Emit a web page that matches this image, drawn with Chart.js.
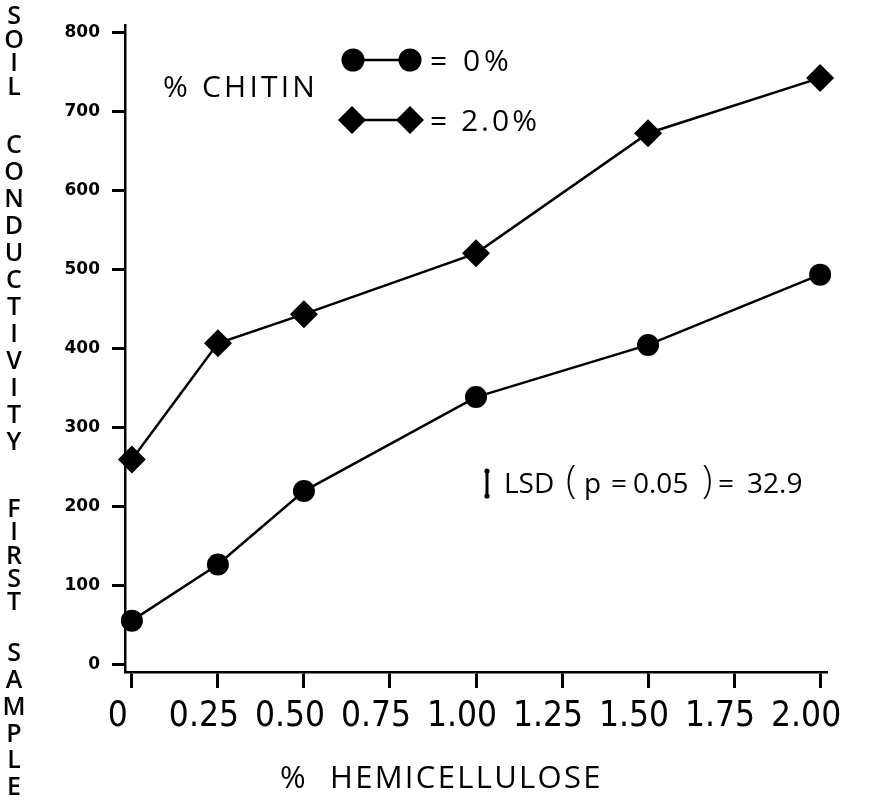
<!DOCTYPE html>
<html><head><meta charset="utf-8">
<script src="https://cdn.jsdelivr.net/npm/chart.js@4/dist/chart.umd.min.js"></script>
<style>html,body{margin:0;padding:0;background:#fff}#wrap{width:877px;height:803px;position:relative}</style>
</head><body><div id="wrap"><canvas id="c"></canvas></div>
<script>
// ---- data ----
const hemicellulose = [0, 0.25, 0.5, 1.0, 1.5, 2.0];
const chitin0 = [56, 127, 220, 339, 405, 494];
const chitin2 = [260, 407, 444, 521, 673, 743];
const seriesLabels = ['= 0%', '= 2.0%'];
const legendTitle = '% CHITIN';
const xTickLabels = ['0', '0.25', '0.50', '0.75', '1.00', '1.25', '1.50', '1.75', '2.00'];
const yTickLabels = ['0', '100', '200', '300', '400', '500', '600', '700', '800'];
const xAxisTitle = ['%', 'HEMICELLULOSE'];
const yAxisTitleWords = ['SOIL', 'CONDUCTIVITY', 'FIRST', 'SAMPLE'];
const lsdText = ['LSD', '(', 'p', '=', '0.05', ')', '=', '32.9'];

const BODY = '"Open Sans", "DejaVu Sans", sans-serif';
const NARROW = '"Liberation Sans Narrow", "DejaVu Sans Condensed", "Roboto Condensed", "Open Sans", sans-serif';

function spaced(ctx, text, x, y, sp) {
  let cx = x;
  for (const ch of text) { ctx.fillText(ch, cx, y); cx += ctx.measureText(ch).width + sp; }
  return cx;
}
function circle(ctx, x, y, r) { ctx.beginPath(); ctx.arc(x, y, r, 0, Math.PI * 2); ctx.fill(); }
function diamond(ctx, x, y, r) {
  ctx.beginPath(); ctx.moveTo(x, y - r); ctx.lineTo(x + r, y); ctx.lineTo(x, y + r); ctx.lineTo(x - r, y); ctx.closePath(); ctx.fill();
}

const annot = {
  id: 'annot',
  afterDraw(chart) {
    const ctx = chart.ctx;
    ctx.save();
    ctx.fillStyle = '#000'; ctx.strokeStyle = '#000';
    ctx.textBaseline = 'middle';
    // vertical stacked y-axis title
    ctx.font = '600 25px ' + BODY;
    ctx.textAlign = 'center';
    const starts = [17, 146, 510, 654], steps = [23.5, 27, 23.3, 26.8];
    yAxisTitleWords.forEach((w, i) => {
      [...w].forEach((ch, j) => ctx.fillText(ch, 14, starts[i] + j * steps[i]));
    });
    ctx.textAlign = 'left';
    // legend
    ctx.font = '500 30px ' + BODY;
    spaced(ctx, legendTitle, 163, 88, 3.2);
    ctx.lineWidth = 2.5;
    ctx.beginPath(); ctx.moveTo(353, 60); ctx.lineTo(410, 60); ctx.stroke();
    circle(ctx, 353, 60, 11.5); circle(ctx, 410, 60, 11.5);
    ctx.beginPath(); ctx.moveTo(352, 120); ctx.lineTo(410, 120); ctx.stroke();
    diamond(ctx, 352, 120, 14); diamond(ctx, 410, 120, 14);
    spaced(ctx, seriesLabels[0], 430, 62, 4);
    spaced(ctx, seriesLabels[1], 430, 122, 3);
    // LSD annotation
    ctx.lineWidth = 3;
    ctx.beginPath(); ctx.moveTo(487, 471); ctx.lineTo(487, 496); ctx.stroke();
    circle(ctx, 487, 471, 2.6); circle(ctx, 487, 496, 2.6);
    const lx = [504, 566, 584, 611, 633, 702, 718, 747];
    lsdText.forEach((t, i) => {
      const paren = (t === '(' || t === ')');
      ctx.font = paren ? '300 38px ' + BODY : '500 28px ' + BODY;
      ctx.fillText(t, lx[i], paren ? 482 : 485);
    });
    // x-axis title
    ctx.font = '500 31px ' + BODY;
    ctx.fillText(xAxisTitle[0], 280, 779);
    spaced(ctx, xAxisTitle[1], 330, 779, 2.3);
    ctx.restore();
  }
};

const lineOpts = { borderColor: '#000', backgroundColor: '#000', borderWidth: 2.5, tension: 0, clip: false,
  pointBackgroundColor: '#000', pointBorderColor: '#000', pointBorderWidth: 0 };

new Chart(document.getElementById('c'), {
  type: 'line',
  data: {
    datasets: [
      Object.assign({ label: seriesLabels[0], data: hemicellulose.map((x, i) => ({ x, y: chitin0[i] })),
        pointStyle: 'circle', pointRadius: 11, pointHoverRadius: 11 }, lineOpts),
      Object.assign({ label: seriesLabels[1], data: hemicellulose.map((x, i) => ({ x, y: chitin2[i] })),
        pointStyle: 'rectRot', pointRadius: 14, pointHoverRadius: 14 }, lineOpts)
    ]
  },
  options: {
    responsive: true, maintainAspectRatio: false, animation: false,
    layout: { padding: { top: 25, right: 50, left: 0, bottom: 0 } },
    plugins: { legend: { display: false }, tooltip: { enabled: false } },
    scales: {
      x: {
        type: 'linear', min: -0.02, max: 2.02,
        afterFit: s => { s.height = 131; },
        border: { display: true, color: '#000', width: 2.5 },
        grid: { drawOnChartArea: false, drawTicks: true, tickLength: 16, tickWidth: 3, color: '#000', tickColor: '#000' },
        ticks: { stepSize: 0.25, includeBounds: false, autoSkip: false, maxRotation: 0, color: '#000',
          padding: 8, labelOffset: -14,
          font: { family: NARROW, size: 35 },
          callback: v => xTickLabels[Math.round(v / 0.25)] }
      },
      y: {
        type: 'linear', min: -9, max: 810,
        afterFit: s => { s.width = 125; },
        border: { display: true, color: '#000', width: 2.5 },
        grid: { drawOnChartArea: false, drawTicks: true, tickLength: 13, tickWidth: 3, color: '#000', tickColor: '#000' },
        ticks: { stepSize: 100, includeBounds: false, color: '#000', padding: 12,
          font: { family: '"DejaVu Sans", sans-serif', size: 17, weight: 'bold' },
          callback: v => yTickLabels[Math.round(v / 100)] }
      }
    }
  },
  plugins: [annot]
});
</script></body></html>
